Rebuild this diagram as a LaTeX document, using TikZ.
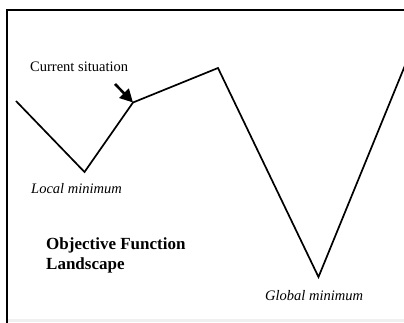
\documentclass[tikz,border=0pt]{standalone}
\usepackage{fontspec}
\setmainfont{Liberation Serif}
\usetikzlibrary{arrows.meta}
\begin{document}
\begin{tikzpicture}[x=1pt,y=-1pt,
  frame/.style={line width=2pt,line cap=rect},
  curve/.style={line width=1.7pt,line join=miter},
  lbl/.style={inner sep=0pt,anchor=base west,font=\fontsize{14.5}{17}\selectfont},
  boldlbl/.style={inner sep=0pt,anchor=base west,font=\fontsize{17}{20}\selectfont\bfseries},
  pointer/.style={line width=2.6pt,-{Triangle[length=13pt,width=13pt]}}]
\useasboundingbox (0,0) rectangle (404,322);
\fill[white] (0,0) rectangle (404,322);
% frame
\draw[gray!12,line width=3pt] (8,320.5) -- (404,320.5);
\coordinate (ftr) at (410,10);
\coordinate (ftl) at (7,10);
\coordinate (fbl) at (7,330);
\draw[frame] (ftr) -- (ftl) -- (fbl);
% landscape
\coordinate (p0) at (16,101);
\coordinate (lmin) at (84.5,172);
\coordinate (cur) at (133,102.5);
\coordinate (peak) at (218,68);
\coordinate (gmin) at (318.5,277);
\coordinate (p5) at (406,63);
\draw[curve] (p0) -- (lmin) -- (cur) -- (peak) -- (gmin) -- (p5);
% arrow
\coordinate (atail) at (115,84);
\draw[pointer] (atail) -- (cur);
% labels
\node[lbl] (tcur) at (30,71.5) {Current situation};
\node[lbl,font=\fontsize{14.5}{17}\selectfont\itshape] (tlocal) at (31,193.5) {Local minimum};
\node[lbl,font=\fontsize{14.5}{17}\selectfont\itshape] (tglobal) at (265,300) {Global minimum};
\node[boldlbl] (tobj1) at (46,249) {Objective Function};
\node[boldlbl] (tobj2) at (46,269) {Landscape};
\end{tikzpicture}
\end{document}
